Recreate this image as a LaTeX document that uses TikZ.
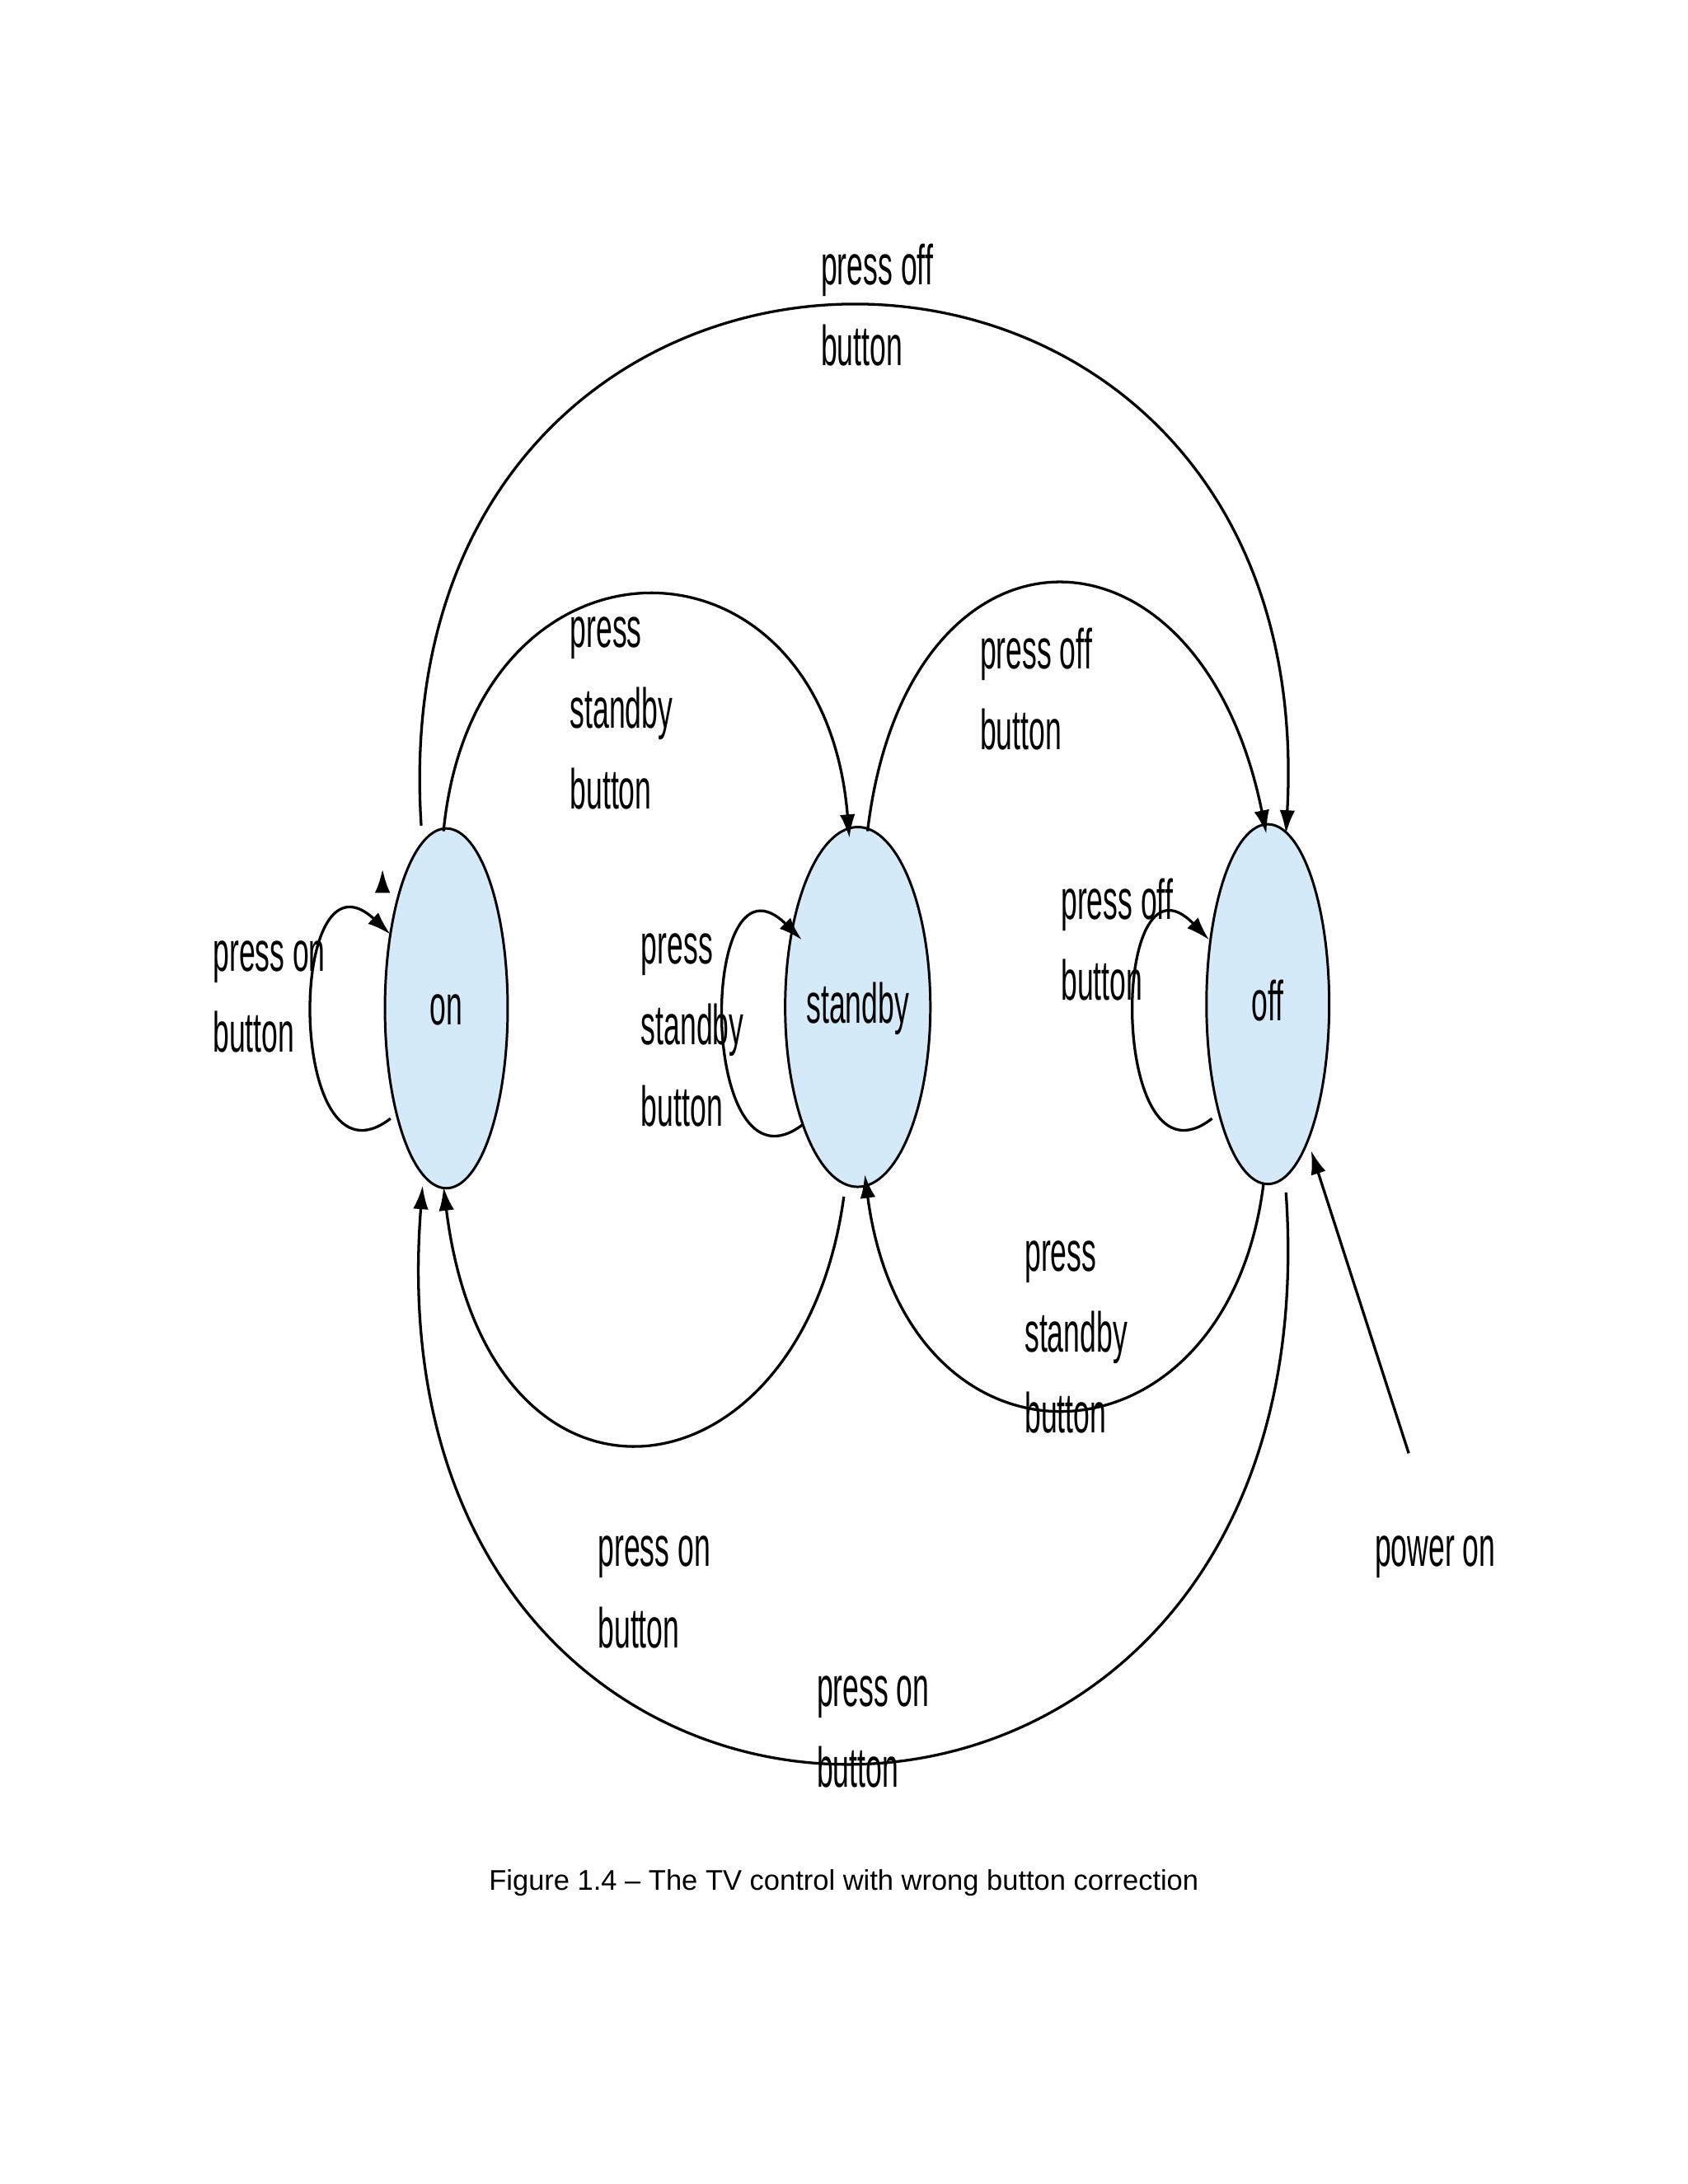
\documentclass[tikz,border=0pt]{standalone}
\usepackage{fontspec}
\setmainfont{Liberation Sans}
\usetikzlibrary{shapes.geometric,arrows.meta}
\definecolor{stfill}{HTML}{D5EAF9}
\newcommand{\lab}[1]{\scalebox{0.52}[1]{\fontsize{11.5}{16.5}\selectfont\begin{tabular}{@{}l@{}}#1\end{tabular}}}
\begin{document}
\begin{tikzpicture}[x=0.1mm,y=-0.1mm,
  state/.style={ellipse,draw,fill=stfill,line width=0.5pt,minimum width=8.8mm,minimum height=25.8mm,inner sep=0pt},
  edge/.style={line width=0.55pt,-{Latex[length=1.7mm,width=1.1mm]}},
  lbl/.style={anchor=north west,inner sep=0pt}]
\useasboundingbox (0,0) rectangle (1210,1566);
\node[state] (on) at (320,723) {\lab{on}};
\node[state] (sb) at (615,722) {\lab{standby}};
\node[state] (off) at (909,720) {\lab{off}};
% outer top
\draw[edge] (on.north west) ++(-14,-8) coordinate (a1);
\draw[edge] (302,592) .. controls (270,95) and (950,95) .. (922,598);
\draw[edge] (318,596) .. controls (340,370) and (590,370) .. (609,601);
\draw[edge] (622,596) .. controls (650,360) and (860,360) .. (908,598);
% loops
\draw[edge] (280,802) .. controls (205,860) and (205,600) .. (280,670);
\draw[edge] (576,806) .. controls (500,865) and (500,600) .. (575,674);
\draw[edge] (869,802) .. controls (795,860) and (795,600) .. (867,674);
% bottom
\draw[edge] (605,858) .. controls (575,1080) and (350,1110) .. (318,851);
\draw[edge] (906,848) .. controls (880,1060) and (650,1070) .. (620,842);
\draw[edge] (922,855) .. controls (960,1400) and (260,1400) .. (303,850);
\coordinate (pw) at (1010,1042);
\draw[edge] (pw) -- (940,825);
% labels
\node[lbl] at (588,163) {\lab{press off\\button}};
\node[lbl] at (408,423) {\lab{press\\standby\\button}};
\node[lbl] at (702,438) {\lab{press off\\button}};
\node[lbl] at (152,655) {\lab{press on\\button}};
\node[lbl] at (459,650) {\lab{press\\standby\\button}};
\node[lbl] at (760,618) {\lab{press off\\button}};
\node[lbl] at (734,870) {\lab{press\\standby\\button}};
\node[lbl] at (428,1082) {\lab{press on\\button}};
\node[lbl] at (585,1182) {\lab{press on\\button}};
\node[lbl] at (985,1082) {\lab{power on}};
\node (cap) at (605,1350) {\fontsize{5.8}{7}\selectfont Figure 1.4 – The TV control with wrong button correction};
\end{tikzpicture}
\end{document}
